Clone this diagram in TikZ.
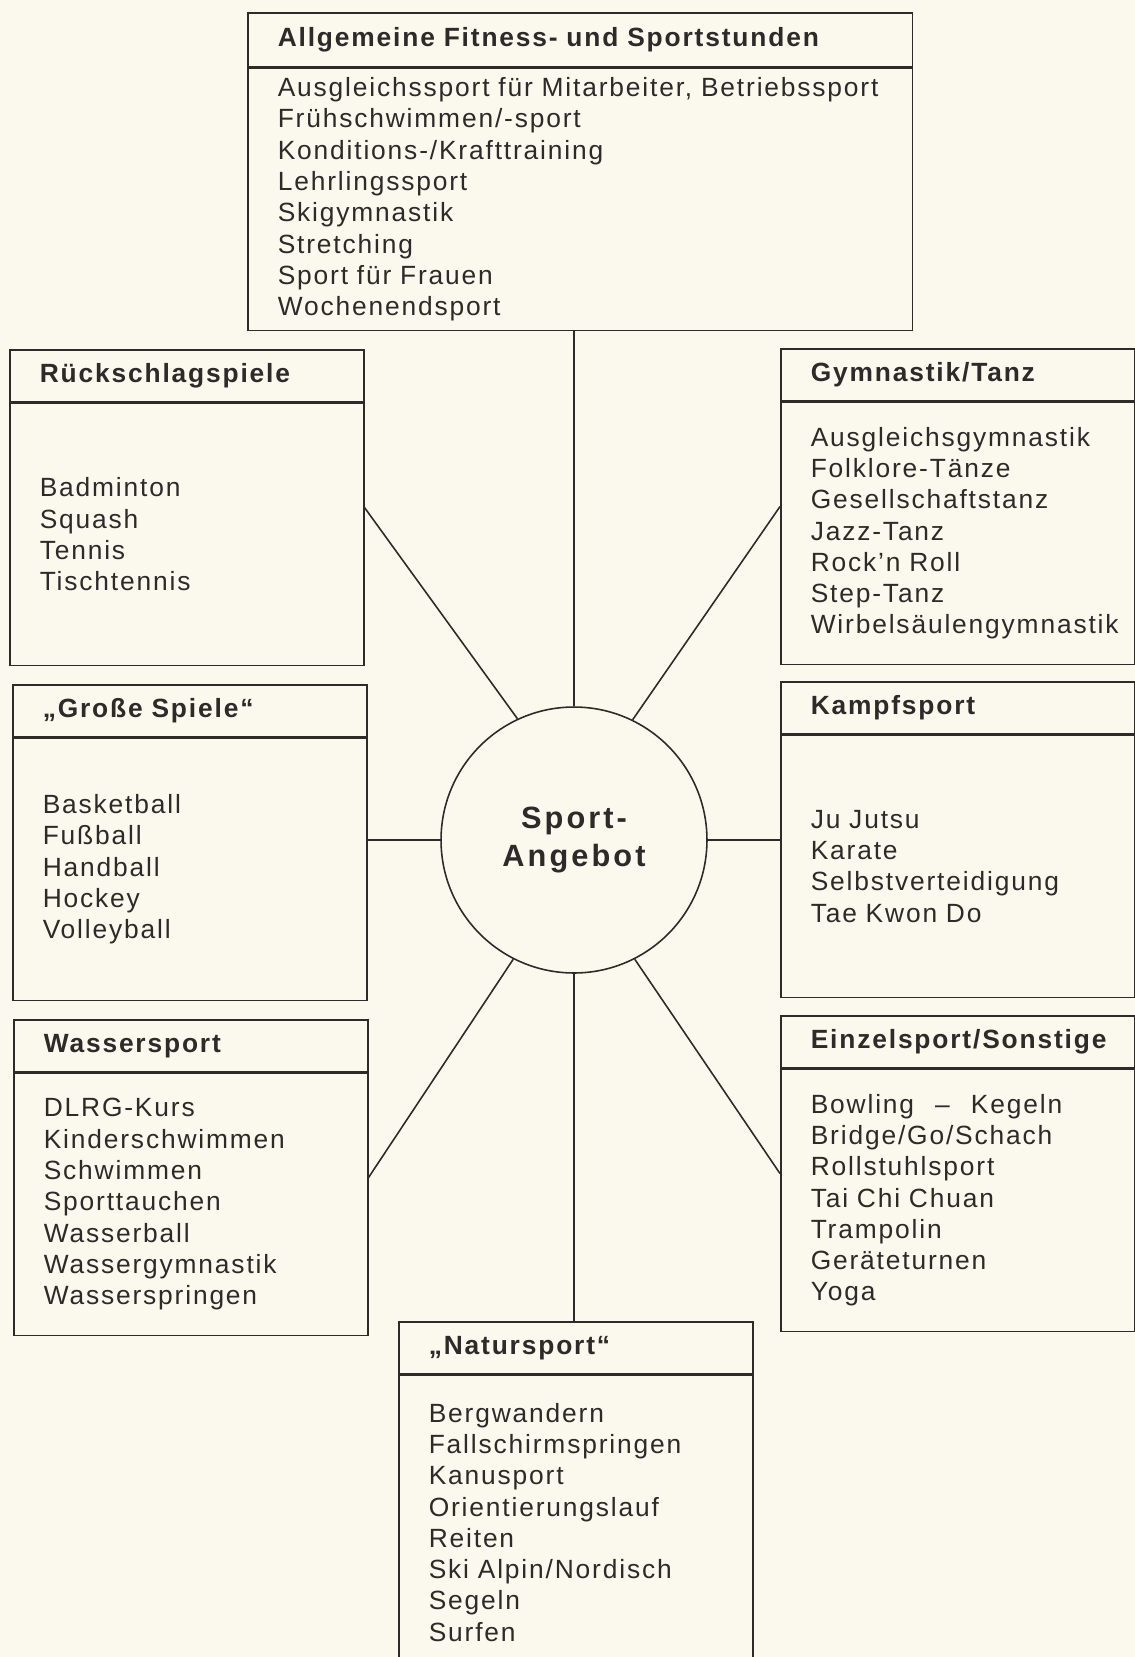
\documentclass[tikz,border=0pt]{standalone}
\usepackage{fontspec}
\setmainfont{Liberation Sans}
\newfontfamily\sportfont[LetterSpace=7]{Liberation Sans}
\newfontfamily\mittefont[LetterSpace=10]{Liberation Sans}
\usetikzlibrary{positioning,calc}

\definecolor{papier}{RGB}{251,248,238}
\definecolor{tinte}{RGB}{45,42,42}

\newcommand\eintrag{\sportfont\fontsize{15pt}{17.8pt}\selectfont}
\newcommand\titel{\sportfont\bfseries\fontsize{15pt}{17.8pt}\selectfont}
\newcommand\mitte{\mittefont\bfseries\fontsize{17.5pt}{21.8pt}\selectfont}

\tikzset{
  kopf/.style={draw, rectangle, anchor=north west, align=left, text width=#1, minimum height=1.04cm, inner xsep=0.6cm, inner ysep=0pt, font=\titel},
  kopf/.default=5.88cm,
  liste/.style={draw, rectangle, align=left, text width=#1, minimum height=5.24cm, inner xsep=0.6cm, font=\eintrag},
  liste/.default=5.88cm,
}

\begin{document}
\begin{tikzpicture}[x=0.02cm, y=-0.02cm, line width=0.9pt, color=tinte]
\fill[papier] (0,0) rectangle (1135,1657);
\useasboundingbox (0,0) rectangle (1135,1657);

% Allgemeine Fitness- und Sportstunden
\node[kopf=12.1cm, minimum height=1.08cm] (allgK) at (247,12) {Allgemeine Fitness- und Sportstunden};
\node[liste=12.1cm, below=0pt of allgK] (allg) {
Ausgleichssport für Mitarbeiter, Betriebssport \\
Frühschwimmen/-sport \\
Konditions-/Krafttraining \\
Lehrlingssport \\
Skigymnastik \\
Stretching \\
Sport für Frauen \\
Wochenendsport
};

% Rückschlagspiele
\node[kopf] (rueckK) at (9,349) {Rückschlagspiele};
\node[liste, below=0pt of rueckK] (rueck) {
Badminton \\
Squash \\
Tennis \\
Tischtennis
};

% Gymnastik/Tanz
\node[kopf] (gymnK) at (780,348) {Gymnastik/Tanz};
\node[liste, below=0pt of gymnK] (gymn) {
Ausgleichsgymnastik \\
Folklore-Tänze \\
Gesellschaftstanz \\
Jazz-Tanz \\
Rock’n Roll \\
Step-Tanz \\
Wirbelsäulengymnastik
};

% Große Spiele
\node[kopf] (grossK) at (12,684) {„Große Spiele“};
\node[liste, below=0pt of grossK] (gross) {
Basketball \\
Fußball \\
Handball \\
Hockey \\
Volleyball
};

% Kampfsport
\node[kopf] (kampfK) at (780,681) {Kampfsport};
\node[liste, below=0pt of kampfK] (kampf) {
Ju Jutsu \\
Karate \\
Selbstverteidigung \\
Tae Kwon Do
};

% Wassersport
\node[kopf] (wasserK) at (13,1019) {Wassersport};
\node[liste, below=0pt of wasserK] (wasser) {
DLRG-Kurs \\
Kinderschwimmen \\
Schwimmen \\
Sporttauchen \\
Wasserball \\
Wassergymnastik \\
Wasserspringen
};

% Einzelsport/Sonstige
\node[kopf] (einzelK) at (780,1015) {Einzelsport/Sonstige};
\node[liste, below=0pt of einzelK] (einzel) {
Bowling\hspace{0.8em}–\hspace{0.8em}Kegeln \\
Bridge/Go/Schach \\
Rollstuhlsport \\
Tai Chi Chuan \\
Trampolin \\
Geräteturnen \\
Yoga
};

% Natursport
\node[kopf] (naturK) at (398,1321) {„Natursport“};
\node[liste, minimum height=5.88cm, below=0pt of naturK] (natur) {
Bergwandern \\
Fallschirmspringen \\
Kanusport \\
Orientierungslauf \\
Reiten \\
Ski Alpin/Nordisch \\
Segeln \\
Surfen
};

% Mitte
\node[draw, circle, minimum size=5.32cm, align=center, font=\mitte] (angebot) at (574,840) {Sport-\\Angebot};

% Verbindungen
\draw (angebot.north) -- (angebot.north |- allg.south);
\draw (angebot.115) -- ($(rueckK.north east)!.5!(rueck.south east)$);
\draw (angebot.64) -- ($(gymnK.north west)!.5!(gymn.south west)$);
\draw (angebot.west) -- (angebot.west -| gross.east);
\draw (angebot.east) -- (angebot.east -| kampf.west);
\draw (angebot.243) -- ($(wasserK.north east)!.5!(wasser.south east)$);
\draw (angebot.297) -- ($(einzelK.north west)!.5!(einzel.south west)$);
\draw (angebot.south) -- (angebot.south |- naturK.north);
\end{tikzpicture}
\end{document}
